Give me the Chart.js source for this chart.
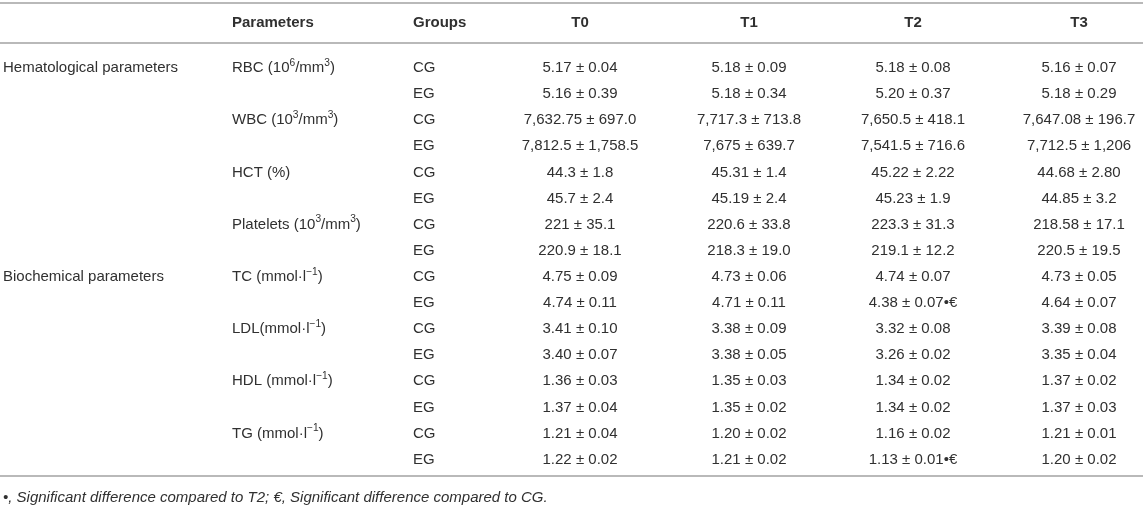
<!DOCTYPE html>
<html lang="en">
<head>
    <meta charset="UTF-8">
    <title>Hematological and biochemical parameters</title>
    <script src="https://cdn.jsdelivr.net/npm/chart.js"></script>
    <style>
        body {
            margin: 0;
            background: #fff;
        }
        #wrap {
            width: 1143px;
            height: 511px;
            position: relative;
        }
    </style>
</head>
<body>
    <div id="wrap"><canvas id="tableChart"></canvas></div>

    <script>
        // table content
        const sections = ['Hematological parameters', 'Biochemical parameters'];
        const parameters = [
            'RBC (10^{6}/mm^{3})',
            'WBC (10^{3}/mm^{3})',
            'HCT (%)',
            'Platelets (10^{3}/mm^{3})',
            'TC (mmol·l^{−1})',
            'LDL(mmol·l^{−1})',
            'HDL (mmol·l^{−1})',
            'TG (mmol·l^{−1})'
        ];
        const groups = ['CG', 'EG'];
        const timePoints = ['T0', 'T1', 'T2', 'T3'];

        const valuesT0 = [
            '5.17 ± 0.04', '5.16 ± 0.39',
            '7,632.75 ± 697.0', '7,812.5 ± 1,758.5',
            '44.3 ± 1.8', '45.7 ± 2.4',
            '221 ± 35.1', '220.9 ± 18.1',
            '4.75 ± 0.09', '4.74 ± 0.11',
            '3.41 ± 0.10', '3.40 ± 0.07',
            '1.36 ± 0.03', '1.37 ± 0.04',
            '1.21 ± 0.04', '1.22 ± 0.02'
        ];
        const valuesT1 = [
            '5.18 ± 0.09', '5.18 ± 0.34',
            '7,717.3 ± 713.8', '7,675 ± 639.7',
            '45.31 ± 1.4', '45.19 ± 2.4',
            '220.6 ± 33.8', '218.3 ± 19.0',
            '4.73 ± 0.06', '4.71 ± 0.11',
            '3.38 ± 0.09', '3.38 ± 0.05',
            '1.35 ± 0.03', '1.35 ± 0.02',
            '1.20 ± 0.02', '1.21 ± 0.02'
        ];
        const valuesT2 = [
            '5.18 ± 0.08', '5.20 ± 0.37',
            '7,650.5 ± 418.1', '7,541.5 ± 716.6',
            '45.22 ± 2.22', '45.23 ± 1.9',
            '223.3 ± 31.3', '219.1 ± 12.2',
            '4.74 ± 0.07', '4.38 ± 0.07•€',
            '3.32 ± 0.08', '3.26 ± 0.02',
            '1.34 ± 0.02', '1.34 ± 0.02',
            '1.16 ± 0.02', '1.13 ± 0.01•€'
        ];
        const valuesT3 = [
            '5.16 ± 0.07', '5.18 ± 0.29',
            '7,647.08 ± 196.7', '7,712.5 ± 1,206',
            '44.68 ± 2.80', '44.85 ± 3.2',
            '218.58 ± 17.1', '220.5 ± 19.5',
            '4.73 ± 0.05', '4.64 ± 0.07',
            '3.39 ± 0.08', '3.35 ± 0.04',
            '1.37 ± 0.02', '1.37 ± 0.03',
            '1.21 ± 0.01', '1.20 ± 0.02'
        ];
        const footnote = '•, Significant difference compared to T2; €, Significant difference compared to CG.';

        // layout: column anchors on the x scale, special rows on the y scale
        const colX = { section: 3, param: 232, group: 413, time: [580, 749, 913, 1079] };
        const headerRow = -1.72;
        const ruleRows = [-2.49, -0.96, 15.62];
        const footRow = 16.45;

        const textColor = '#303030';
        const ruleColor = '#b9b9b9';
        const fontFamily = '"Liberation Sans", Arial, Helvetica, sans-serif';
        const fontSize = 15;

        const allValues = [valuesT0, valuesT1, valuesT2, valuesT3];
        const cell = (x, y, text) => ({ x: x, y: y, text: text });

        const headerCells = [cell(colX.param, headerRow, 'Parameters'), cell(colX.group, headerRow, 'Groups')]
            .concat(timePoints.map((t, i) => cell(colX.time[i], headerRow, t)));
        const sectionCells = sections.map((s, i) => cell(colX.section, i * 8, s));
        const paramCells = parameters.map((p, i) => cell(colX.param, i * 2, p));
        const groupCells = [];
        for (let r = 0; r < parameters.length * 2; r++) {
            groupCells.push(cell(colX.group, r, groups[r % 2]));
        }
        const valueCells = [];
        allValues.forEach((vals, t) => {
            vals.forEach((v, r) => valueCells.push(cell(colX.time[t], r, v)));
        });
        const footCells = [cell(colX.section, footRow, footnote)];

        function textSet(label, data, align, weight, style) {
            return {
                label: label,
                data: data,
                pointRadius: 0,
                pointHoverRadius: 0,
                showLine: false,
                align: align,
                weight: weight,
                fstyle: style
            };
        }

        // draws text with ^{...} superscripts
        function drawRich(ctx, text, x, y, align, weight, style) {
            const parts = text.split(/\^\{([^}]*)\}/);
            const mainFont = style + ' ' + weight + ' ' + fontSize + 'px ' + fontFamily;
            const supFont = style + ' ' + weight + ' ' + (fontSize * 0.68) + 'px ' + fontFamily;
            let total = 0;
            parts.forEach((p, i) => {
                ctx.font = i % 2 ? supFont : mainFont;
                total += ctx.measureText(p).width;
            });
            let cx = align === 'center' ? x - total / 2 : x;
            ctx.textAlign = 'left';
            ctx.textBaseline = 'middle';
            parts.forEach((p, i) => {
                const sup = i % 2 === 1;
                ctx.font = sup ? supFont : mainFont;
                ctx.fillText(p, cx, sup ? y - 5 : y);
                cx += ctx.measureText(p).width;
            });
        }

        const tablePlugin = {
            id: 'tablePlugin',
            afterDatasetsDraw(chart) {
                const ctx = chart.ctx;
                const xs = chart.scales.x;
                const ys = chart.scales.y;
                ctx.save();
                ctx.strokeStyle = ruleColor;
                ctx.lineWidth = 2;
                ruleRows.forEach(r => {
                    const py = Math.round(ys.getPixelForValue(r));
                    ctx.beginPath();
                    ctx.moveTo(xs.getPixelForValue(0), py);
                    ctx.lineTo(xs.getPixelForValue(1143), py);
                    ctx.stroke();
                });
                ctx.fillStyle = textColor;
                chart.data.datasets.forEach((ds, di) => {
                    const meta = chart.getDatasetMeta(di);
                    meta.data.forEach((pt, i) => {
                        drawRich(ctx, ds.data[i].text, pt.x, pt.y, ds.align, ds.weight, ds.fstyle);
                    });
                });
                ctx.restore();
            }
        };

        let ctx = document.getElementById('tableChart').getContext('2d');
        let chart = new Chart(ctx, {
            type: 'scatter',
            data: {
                datasets: [
                    textSet('header', headerCells.slice(0, 2), 'left', 'bold', 'normal'),
                    textSet('headerTimes', headerCells.slice(2), 'center', 'bold', 'normal'),
                    textSet('sections', sectionCells, 'left', 'normal', 'normal'),
                    textSet('parameters', paramCells, 'left', 'normal', 'normal'),
                    textSet('groups', groupCells, 'left', 'normal', 'normal'),
                    textSet('values', valueCells, 'center', 'normal', 'normal'),
                    textSet('footnote', footCells, 'left', 'normal', 'italic')
                ]
            },
            options: {
                responsive: true,
                maintainAspectRatio: false,
                animation: false,
                events: [],
                layout: { padding: 0 },
                scales: {
                    x: { type: 'linear', min: 0, max: 1143, display: false },
                    y: { type: 'linear', min: -2.605, max: 16.97, reverse: true, display: false }
                },
                plugins: {
                    legend: { display: false },
                    tooltip: { enabled: false }
                }
            },
            plugins: [tablePlugin]
        });
    </script>
</body>
</html>
